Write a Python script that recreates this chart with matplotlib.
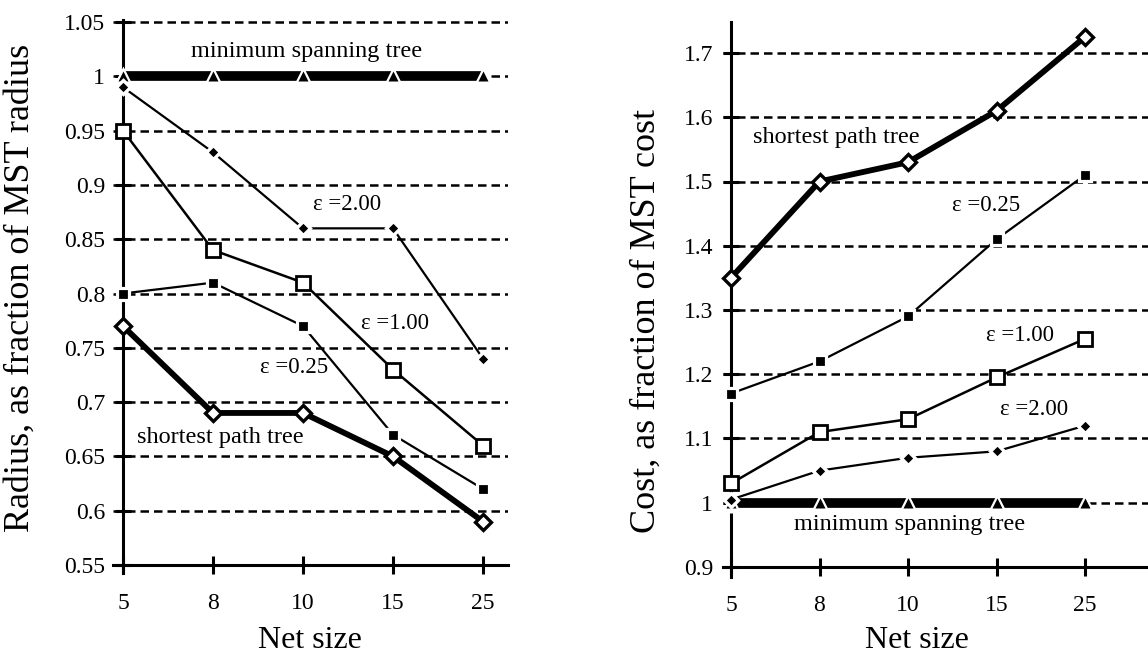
import matplotlib
matplotlib.use("Agg")
import matplotlib.pyplot as plt
import numpy as np
from matplotlib.ticker import FuncFormatter

plt.rcParams['font.family'] = ['Liberation Serif', 'DejaVu Serif']

net_sizes = ['5', '8', '10', '15', '25']

# Radius (fraction of MST radius)
rad_mst = [1.0, 1.0, 1.0, 1.0, 1.0]
rad_eps200 = [0.99, 0.93, 0.86, 0.86, 0.74]
rad_eps100 = [0.95, 0.84, 0.81, 0.73, 0.66]
rad_eps025 = [0.80, 0.81, 0.77, 0.67, 0.62]
rad_spt = [0.77, 0.69, 0.69, 0.65, 0.59]

# Cost (fraction of MST cost)
cost_spt = [1.35, 1.50, 1.53, 1.61, 1.725]
cost_eps025 = [1.17, 1.22, 1.29, 1.41, 1.51]
cost_eps100 = [1.03, 1.11, 1.13, 1.195, 1.255]
cost_eps200 = [1.005, 1.05, 1.07, 1.08, 1.12]
cost_mst = [1.0, 1.0, 1.0, 1.0, 1.0]

rad_ticks = [0.55, 0.6, 0.65, 0.7, 0.75, 0.8, 0.85, 0.9, 0.95, 1.0, 1.05]
cost_ticks = [0.9, 1.0, 1.1, 1.2, 1.3, 1.4, 1.5, 1.6, 1.7]

W, H = 1148, 656
fig = plt.figure(figsize=(W / 100, H / 100), dpi=100)
ax1 = fig.add_axes([113 / W, 1 - 573 / H, 395 / W, 553 / H])
ax2 = fig.add_axes([723 / W, 1 - 577 / H, 425 / W, 555 / H])

x = np.arange(len(net_sizes))

def style_axis(ax, ticks, ybase, ylim, xlim):
    ax.set_xlim(*xlim)
    ax.set_ylim(*ylim)
    for s in ['top', 'right']:
        ax.spines[s].set_visible(False)
    ax.spines['left'].set_position(('data', 0))
    ax.spines['bottom'].set_position(('data', ybase))
    ax.spines['left'].set_bounds(ylim[0], ylim[1])
    for s in ['left', 'bottom']:
        ax.spines[s].set_linewidth(2.2)
    ax.set_xticks(x)
    ax.set_xticklabels(net_sizes)
    ax.set_yticks(ticks)
    ax.yaxis.set_major_formatter(FuncFormatter(lambda v, p: '%g' % round(v, 3)))
    ax.tick_params(axis='x', direction='inout', length=13, width=2.2, pad=14, labelsize=17)
    ax.tick_params(axis='y', direction='inout', length=12, width=2.2, pad=7, labelsize=17)
    ax.grid(axis='y', color='black', linestyle=(0, (3.4, 2.0)), linewidth=1.8, zorder=1)
    ax.set_axisbelow(True)
    ax.patch.set_visible(False)

style_axis(ax1, rad_ticks, 0.55, (0.55 - 8 / 1086, 1.05 + 2 / 1086), (-10 / 90, 4 + 25 / 90))
style_axis(ax2, cost_ticks, 0.9, (0.9 - 10 / 642.5, 1.7 + 31 / 642.5), (-8 / 88.5, (1148 - 731) / 88.5))

def draw_series(ax, mst, e2, e1, e025, spt):
    common = dict(color='black', clip_on=False)
    ax.plot(x, mst, lw=7, solid_capstyle='butt', zorder=4, **common)
    ax.plot(x, mst, lw=0, marker='^', ms=15, mfc='white', mec='none', zorder=4.1, **common)
    ax.plot(x, mst, lw=0, marker='^', ms=7.5, mfc='black', mec='none', zorder=4.2, **common)
    ax.plot(x, e2, lw=1.6, marker='D', ms=7.5, mfc='black', mec='white', mew=2.4, zorder=5, **common)
    ax.plot(x, e025, lw=1.6, marker='s', ms=9, mfc='black', mec='white', mew=2.3, zorder=5, **common)
    ax.plot(x, e1, lw=1.8, marker='s', ms=10.5, mfc='white', mec='black', mew=2.0, zorder=6, **common)
    ax.plot(x, spt, lw=4.2, marker='D', ms=8.5, mfc='white', mec='black', mew=2.4, zorder=7, **common)

draw_series(ax1, rad_mst, rad_eps200, rad_eps100, rad_eps025, rad_spt)
draw_series(ax2, cost_mst, cost_eps200, cost_eps100, cost_eps025, cost_spt)

ann = 17.5
eps = 16.5
# left panel labels
ax1.text(2.04, 1.0224, 'minimum spanning tree', fontsize=ann, ha='center', va='center')
ax1.text(2.49, 0.8815, 'ε =2.00', fontsize=eps, ha='center', va='center')
ax1.text(3.02, 0.772, 'ε =1.00', fontsize=eps, ha='center', va='center')
ax1.text(1.90, 0.7323, 'ε =0.25', fontsize=eps, ha='center', va='center')
ax1.text(1.08, 0.667, 'shortest path tree', fontsize=ann, ha='center', va='center')

# right panel labels
ax2.text(1.19, 1.568, 'shortest path tree', fontsize=ann, ha='center', va='center')
ax2.text(2.88, 1.463, 'ε =0.25', fontsize=eps, ha='center', va='center')
ax2.text(3.26, 1.261, 'ε =1.00', fontsize=eps, ha='center', va='center')
ax2.text(3.43, 1.1444, 'ε =2.00', fontsize=eps, ha='center', va='center')
ax2.text(2.02, 0.9654, 'minimum spanning tree', fontsize=ann, ha='center', va='center')

# axis labels
ax1.set_ylabel('Radius, as fraction of MST radius', fontsize=26)
ax1.yaxis.set_label_coords((37 - 113) / 395, (573 - 288) / 553)
ax2.set_ylabel('Cost, as fraction of MST cost', fontsize=26)
ax2.yaxis.set_label_coords((663 - 723) / 425, (577 - 321) / 555)

ax1.set_xlabel('Net size', fontsize=23)
ax1.xaxis.set_label_coords(0.499, (573 - 648) / 553)
ax1.xaxis.label.set_va('baseline')
ax2.set_xlabel('Net size', fontsize=23)
ax2.xaxis.set_label_coords(0.456, (577 - 648) / 555)
ax2.xaxis.label.set_va('baseline')

fig.savefig('out.png', dpi=100)
